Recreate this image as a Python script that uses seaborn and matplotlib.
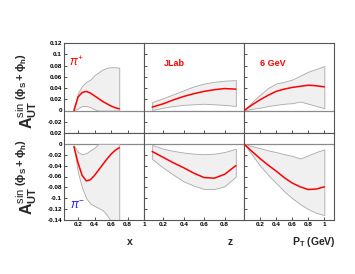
import numpy as np
import pandas as pd
import matplotlib
matplotlib.use("Agg")
import matplotlib.pyplot as plt
import seaborn as sns
from matplotlib.ticker import FormatStrFormatter

sns.set_style("ticks")
plt.rcParams['font.family'] = ['Liberation Sans', 'DejaVu Sans']
plt.rcParams['axes.unicode_minus'] = False
plt.rcParams['mathtext.fontset'] = 'custom'
plt.rcParams['mathtext.rm'] = 'Liberation Sans'
plt.rcParams['mathtext.bf'] = 'Liberation Sans:bold'
plt.rcParams['mathtext.it'] = 'Liberation Sans:italic'

# ---------------- data ----------------
# pi+ vs x
x_pp = [0.15, 0.20, 0.25, 0.30, 0.35, 0.40, 0.45, 0.50, 0.55, 0.60, 0.65, 0.70]
c_pp_x = [0.000, 0.024, 0.032, 0.034, 0.031, 0.026, 0.021, 0.016, 0.012, 0.008, 0.005, 0.003]
u_pp_x = [0.000, 0.031, 0.044, 0.051, 0.055, 0.063, 0.068, 0.073, 0.076, 0.077, 0.077, 0.076]
l_pp_x = [0.000, 0.004, 0.008, 0.008, 0.006, 0.002, 0.000, 0.000, 0.000, 0.000, 0.000, 0.000]

# pi+ vs z
z_pp = [0.09, 0.20, 0.30, 0.40, 0.50, 0.60, 0.70, 0.80, 0.91]
c_pp_z = [0.006, 0.012, 0.019, 0.025, 0.030, 0.034, 0.037, 0.039, 0.038]
u_pp_z = [0.015, 0.022, 0.029, 0.036, 0.043, 0.048, 0.051, 0.053, 0.054]
l_pp_z = [0.001, 0.005, 0.008, 0.010, 0.011, 0.012, 0.011, 0.010, 0.008]

# pi+ vs PT
pt_pp = [0.0, 0.1, 0.2, 0.3, 0.4, 0.5, 0.6, 0.7, 0.8, 0.9, 1.0]
c_pp_pt = [0.000, 0.010, 0.019, 0.027, 0.034, 0.038, 0.041, 0.043, 0.045, 0.044, 0.042]
u_pp_pt = [0.000, 0.015, 0.028, 0.040, 0.048, 0.051, 0.055, 0.062, 0.069, 0.074, 0.079]
l_pp_pt = [0.000, 0.003, 0.005, 0.008, 0.010, 0.012, 0.013, 0.016, 0.012, 0.008, 0.004]

# pi- vs x
x_pm = [0.15, 0.20, 0.25, 0.30, 0.35, 0.40, 0.45, 0.50, 0.55, 0.60, 0.65, 0.70]
c_pm_x = [-0.005, -0.035, -0.058, -0.068, -0.066, -0.058, -0.048, -0.038, -0.028, -0.019, -0.012, -0.007]
u_pm_x = [-0.003, -0.015, -0.019, -0.017, -0.012, -0.007, 0.000, 0.000, 0.000, 0.000, 0.000, 0.000]
l_pm_x = [-0.005, -0.053, -0.081, -0.100, -0.110, -0.114, -0.118, -0.122, -0.131, -0.142, -0.155, -0.168]

# pi- vs z
z_pm = [0.09, 0.20, 0.30, 0.40, 0.50, 0.60, 0.70, 0.80, 0.91]
c_pm_z = [-0.014, -0.025, -0.035, -0.044, -0.054, -0.062, -0.063, -0.056, -0.040]
u_pm_z = [-0.002, -0.009, -0.013, -0.016, -0.018, -0.019, -0.018, -0.015, -0.009]
l_pm_z = [-0.028, -0.044, -0.057, -0.069, -0.077, -0.083, -0.083, -0.078, -0.060]

# pi- vs PT
pt_pm = [0.0, 0.1, 0.2, 0.3, 0.4, 0.5, 0.6, 0.7, 0.8, 0.9, 1.0]
c_pm_pt = [0.000, -0.014, -0.027, -0.039, -0.050, -0.062, -0.072, -0.079, -0.084, -0.083, -0.079]
u_pm_pt = [0.000, -0.004, -0.008, -0.012, -0.015, -0.019, -0.022, -0.027, -0.021, -0.015, -0.010]
l_pm_pt = [0.000, -0.020, -0.040, -0.057, -0.072, -0.087, -0.100, -0.111, -0.120, -0.127, -0.131]

top_yticks = [-0.02, 0, 0.02, 0.04, 0.06, 0.08, 0.1, 0.12]
bot_yticks = [0.02, 0, -0.02, -0.04, -0.06, -0.08, -0.1, -0.12, -0.14]

# ---------------- figure ----------------
W, H = 355, 274
fig = plt.figure(figsize=(W / 100, H / 100), dpi=100)

def fx(px):
    return px / W

def fy(py):
    return 1 - py / H

cols = [(64, 144, (0.03, 1.0)), (144, 244, (0.01, 0.99)), (244, 334, (0.0, 1.12))]
rows = [(43, 133, (-0.04, 0.12)), (133, 220, (-0.14, 0.02))]

axes = {}
for r, (yt, yb, ylim) in enumerate(rows):
    for c, (xl, xr, xlim) in enumerate(cols):
        ax = fig.add_axes([fx(xl), fy(yb), fx(xr - xl), (yb - yt) / H])
        ax.set_xlim(*xlim)
        ax.set_ylim(*ylim)
        axes[(r, c)] = ax

panels = {
    (0, 0): (x_pp, c_pp_x, u_pp_x, l_pp_x),
    (0, 1): (z_pp, c_pp_z, u_pp_z, l_pp_z),
    (0, 2): (pt_pp, c_pp_pt, u_pp_pt, l_pp_pt),
    (1, 0): (x_pm, c_pm_x, u_pm_x, l_pm_x),
    (1, 1): (z_pm, c_pm_z, u_pm_z, l_pm_z),
    (1, 2): (pt_pm, c_pm_pt, u_pm_pt, l_pm_pt),
}

for key, (xv, cv, uv, lv) in panels.items():
    ax = axes[key]
    ax.axhline(0, color='#8a8a8a', lw=0.9, zorder=1)
    ax.fill_between(xv, lv, uv, facecolor='#f0f0f0', edgecolor='#a8a8a8', lw=0.6, zorder=2)
    df = pd.DataFrame({'v': xv, 'a': cv})
    sns.lineplot(data=df, x='v', y='a', ax=ax, color='#ff0000', lw=1.1, zorder=3)
    ax.set_xlabel('')
    ax.set_ylabel('')
    r, c = key
    ax.tick_params(direction='in', length=2.2, width=0.6, labelsize=4.6, pad=1.5,
                   colors='#333333', labelcolor='black')
    for sp in ax.spines.values():
        sp.set_color('#555555')
        sp.set_linewidth(0.8)
    ax.set_yticks(top_yticks if r == 0 else bot_yticks)
    ax.yaxis.set_major_formatter(FormatStrFormatter('%g'))
    if c != 0:
        ax.set_yticklabels([])
    if c == 0:
        ax.set_xticks([0.2, 0.4, 0.6, 0.8, 1.0])
    elif c == 1:
        ax.set_xticks([0.2, 0.4, 0.6, 0.8])
    else:
        ax.set_xticks([0.2, 0.4, 0.6, 0.8, 1.0])
    ax.xaxis.set_major_formatter(FormatStrFormatter('%g'))
    if r == 0:
        ax.set_xticklabels([])
    for t in ax.get_xticklabels() + ax.get_yticklabels():
        t.set_fontweight('bold')

# texts
fig.text(fx(69), fy(62), r'$\pi^{+}$', color='#ff0000', fontsize=8.5, family='DejaVu Serif',
         ha='left', va='center')
fig.text(fx(164), fy(63), 'JLab', color='#ff0000', fontsize=6.5, fontweight='bold',
         ha='left', va='center')
fig.text(fx(260), fy(63), '6 GeV', color='#ff0000', fontsize=6.5, fontweight='bold',
         ha='left', va='center')
fig.text(fx(70), fy(206), r'$\pi^{-}$', color='#1a1aff', fontsize=8.5, family='DejaVu Serif',
         ha='left', va='center')

fig.text(fx(130), fy(242), 'x', fontsize=7.5, fontweight='bold', ha='center', va='center')
fig.text(fx(230), fy(242), 'z', fontsize=7.5, fontweight='bold', ha='center', va='center')
fig.text(fx(314), fy(242), r'$\mathbf{P_{T}}$ (GeV)', fontsize=7.5, fontweight='bold',
         ha='center', va='center')

ylab = r'$\mathbf{A}_{\mathbf{UT}}^{\mathbf{\sin\,(\phi_S+\phi_h)}}$'
for yc in (91, 177):
    fig.text(fx(27), fy(yc), ylab, fontsize=11.5, rotation=90, ha='center', va='center')

fig.savefig('out.png', dpi=100)
